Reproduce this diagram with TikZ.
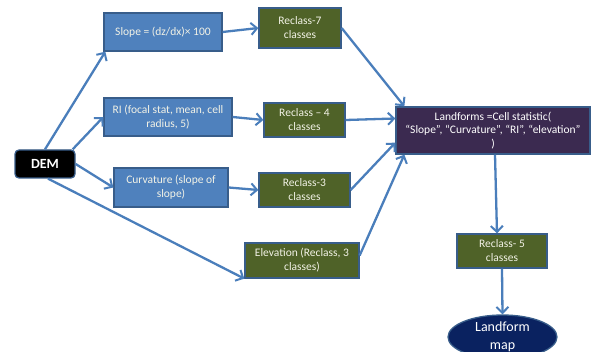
\documentclass[tikz,border=0pt]{standalone}
\usepackage{fontspec}
\setmainfont{Carlito}
\usetikzlibrary{arrows.meta,shapes.geometric}
\definecolor{bluefill}{HTML}{4F81BD}
\definecolor{blueedge}{HTML}{385D8A}
\definecolor{greenfill}{HTML}{4F6228}
\definecolor{purplefill}{HTML}{3B2A50}
\definecolor{navyfill}{HTML}{0A2260}
\definecolor{arrowblue}{HTML}{4A7EBB}
\definecolor{lighttext}{HTML}{F2F2E6}
\begin{document}
\begin{tikzpicture}[x=1pt,y=-1pt,
  box/.style={draw=blueedge,line width=1.3pt,align=center,inner sep=1pt,font=\fontsize{11.5}{14}\selectfont,text=lighttext},
  bluebox/.style={box,fill=bluefill},
  greenbox/.style={box,fill=greenfill},
  conn/.style={draw=arrowblue,line width=2.3pt,-{Straight Barb[length=6pt,width=12pt,line width=2pt]}}]
\path[use as bounding box,fill=white] (0,0) rectangle (592,352);

\node[draw=blueedge,line width=1.3pt,fill=black,rounded corners=4pt,minimum width=60pt,minimum height=28pt,inner sep=0pt,text=white,font=\fontsize{14}{16}\selectfont\bfseries] (dem) at (45,164) {DEM};

\node[bluebox,minimum width=118pt,minimum height=38pt] (slope) at (163,32) {Slope = (dz/dx)× 100};
\node[bluebox,minimum width=128pt,minimum height=38pt] (ri) at (168,117) {RI (focal stat, mean, cell\\radius, 5)};
\node[bluebox,minimum width=114pt,minimum height=39pt] (curv) at (171,187.5) {Curvature (slope of\\slope)};
\node[greenbox,minimum width=114pt,minimum height=35pt] (elev) at (302,260.5) {Elevation (Reclass, 3\\classes)};

\node[greenbox,minimum width=82pt,minimum height=40pt] (r7) at (300,28) {Reclass-7\\classes};
\node[greenbox,minimum width=81pt,minimum height=34pt] (r4) at (304.5,120) {Reclass -- 4\\classes};
\node[greenbox,minimum width=91pt,minimum height=34pt] (r3) at (304.5,190) {Reclass-3\\classes};

\node[box,fill=purplefill,minimum width=194pt,minimum height=47pt,text=white,font=\fontsize{11.5}{13.5}\selectfont] (land) at (493,130.5) {Landforms =Cell statistic(\\“Slope”, “Curvature”, “RI”, “elevation”\\)};

\node[greenbox,minimum width=90pt,minimum height=34pt] (r5) at (502,251) {Reclass- 5\\classes};

\node[ellipse,draw=blueedge,line width=1.3pt,fill=navyfill,minimum width=109pt,minimum height=44pt,inner sep=0pt,align=center,text=white,font=\fontsize{14}{18}\selectfont] (map) at (502.5,337) {Landform\\map};

\draw[conn] (dem.north) -- ([xshift=2pt]slope.south west);
\draw[conn] ([xshift=-3pt]dem.north east) -- (ri.west);
\draw[conn] (dem.east) -- (curv.west);
\draw[conn] ([xshift=3pt]dem.south) -- (elev.south west);

\draw[conn] (slope.east) -- (r7.west);
\draw[conn] (ri.east) -- (r4.west);
\draw[conn] (curv.east) -- (r3.west);

\draw[conn] (r7.east) -- ([xshift=9pt]land.north west);
\draw[conn] (r4.east) -- ([yshift=12pt]land.west);
\draw[conn] (r3.east) -- ([yshift=12pt]land.south west);
\draw[conn] ([yshift=5pt]elev.east) -- ([xshift=9pt]land.south west);

\draw[conn] ([xshift=2pt]land.south) -- ([xshift=-5pt]r5.north);
\draw[conn] (r5.south) -- (map.north);
\end{tikzpicture}
\end{document}
